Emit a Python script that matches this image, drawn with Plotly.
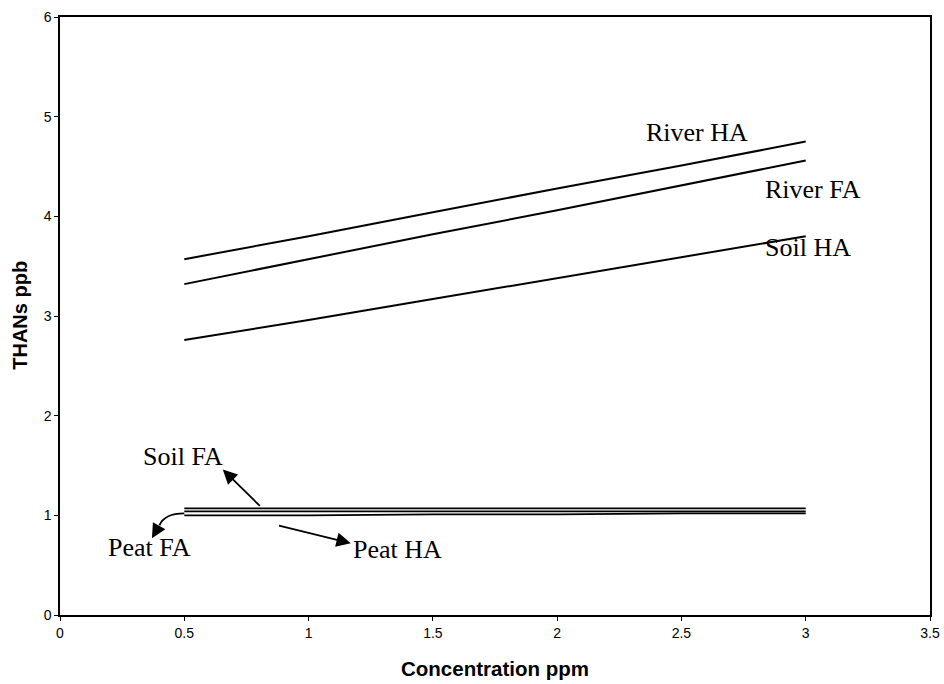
import plotly.graph_objects as go

conc = [0.5, 1.0, 1.5, 2.0, 2.5, 3.0]
river_ha = [3.57, 3.80, 4.04, 4.28, 4.51, 4.75]
river_fa = [3.32, 3.57, 3.82, 4.06, 4.31, 4.56]
soil_ha = [2.76, 2.96, 3.17, 3.38, 3.59, 3.80]
soil_fa = [1.07, 1.07, 1.07, 1.07, 1.07, 1.07]
peat_fa = [1.04, 1.04, 1.04, 1.04, 1.04, 1.04]
peat_ha = [1.00, 1.00, 1.01, 1.01, 1.02, 1.02]

x_ticks = [0, 0.5, 1, 1.5, 2, 2.5, 3, 3.5]
x_ticklabels = ["0", "0.5", "1", "1.5", "2", "2.5", "3", "3.5"]
y_ticks = [0, 1, 2, 3, 4, 5, 6]

fig = go.Figure()
series = [("River HA", river_ha, 2), ("River FA", river_fa, 2), ("Soil HA", soil_ha, 2),
          ("Soil FA", soil_fa, 1.7), ("Peat FA", peat_fa, 1.7), ("Peat HA", peat_ha, 1.7)]
for name, ys, w in series:
    fig.add_trace(go.Scatter(x=conc, y=ys, mode="lines", name=name,
                             line=dict(color="black", width=w), showlegend=False))

serif = dict(family="Liberation Serif, Times New Roman, serif", size=26, color="black")

# direct labels
fig.add_annotation(x=2.35, y=4.84, text="River HA", showarrow=False, font=serif, xanchor="left", yanchor="middle")
fig.add_annotation(x=2.83, y=4.27, text="River FA", showarrow=False, font=serif, xanchor="left", yanchor="middle")
fig.add_annotation(x=2.83, y=3.69, text="Soil HA", showarrow=False, font=serif, xanchor="left", yanchor="middle")
fig.add_annotation(x=0.495, y=1.59, text="Soil FA", showarrow=False, font=serif, xanchor="center", yanchor="middle")
fig.add_annotation(x=0.36, y=0.68, text="Peat FA", showarrow=False, font=serif, xanchor="center", yanchor="middle")
fig.add_annotation(x=1.17, y=0.66, text="Peat HA", showarrow=False, font=serif, xanchor="left", yanchor="middle")

# arrows
arrow = dict(showarrow=True, arrowhead=2, arrowsize=1.6, arrowwidth=1.8, arrowcolor="black",
             axref="x", ayref="y", text="")
fig.add_annotation(x=0.655, y=1.46, ax=0.81, ay=1.08, **arrow)
fig.add_annotation(x=1.17, y=0.72, ax=0.875, ay=0.90, **arrow)
fig.add_annotation(x=0.37, y=0.77, ax=0.40, ay=0.90, **arrow)
fig.add_shape(type="path", path="M 0.50,1.02 Q 0.42,1.02 0.40,0.90",
              line=dict(color="black", width=1.8), xref="x", yref="y")

# axis titles
fig.add_annotation(xref="paper", yref="paper", x=0.5, y=-0.09, text="<b>Concentration ppm</b>",
                   showarrow=False, font=dict(size=20.5), xanchor="center", yanchor="middle")
fig.add_annotation(xref="paper", yref="paper", x=-0.046, y=0.502, text="<b>THANs ppb</b>",
                   showarrow=False, font=dict(size=20), textangle=-90, xanchor="center", yanchor="middle")

fig.update_layout(
    width=944, height=684,
    margin=dict(l=60, r=14, t=17, b=69),
    paper_bgcolor="white", plot_bgcolor="white",
    font=dict(family="Liberation Sans, Arial, sans-serif", size=14, color="black"),
    xaxis=dict(range=[0, 3.5], tickvals=x_ticks, ticktext=x_ticklabels, showgrid=False, zeroline=False,
               showline=True, linecolor="black", linewidth=1.5, mirror=True, automargin=False,
               ticks="outside", ticklen=4, tickcolor="black"),
    yaxis=dict(range=[0, 6], tickvals=y_ticks, showgrid=False, zeroline=False,
               showline=True, linecolor="black", linewidth=1.5, mirror=True, automargin=False,
               ticks="outside", ticklen=4, tickcolor="black"),
)

fig.write_html("out.html", config={"displayModeBar": False},
               post_script="document.body.style.margin='0';document.body.style.overflow='hidden';")
